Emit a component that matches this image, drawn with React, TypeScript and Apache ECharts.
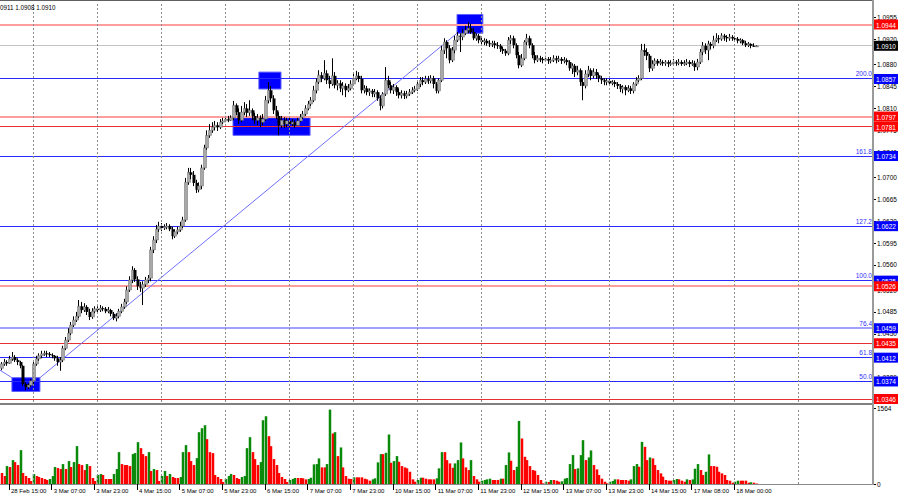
import React, { useEffect, useRef } from 'react';
import * as echarts from 'echarts';

// EURUSD H1, prices in points (0.0001) above 1.0000, bar 0 = 28 Feb 12:00
const OPEN = [395,402,405,403,410,413,408,405,399,370,365,368,375,402,410,415,418,419,418,416,415,411,405,408,427,440,451,464,472,478,494,488,493,485,477,486,490,488,491,490,486,488,482,475,478,486,493,501,520,536,552,537,526,523,529,536,539,584,600,617,622,619,621,622,617,606,613,616,622,632,692,708,704,691,680,686,715,747,767,775,780,783,780,788,790,793,791,795,815,804,791,804,810,803,807,798,791,795,788,793,823,839,826,807,798,783,791,785,790,785,788,783,790,796,801,810,817,823,839,852,863,858,866,855,849,862,847,850,842,846,839,842,849,858,862,857,839,842,836,838,833,836,826,814,833,855,847,839,844,836,831,834,830,833,836,839,841,849,855,852,857,854,858,849,838,855,903,916,906,887,903,919,926,924,930,935,938,932,922,926,919,916,918,914,913,914,911,910,905,902,898,919,922,911,895,879,890,916,922,911,895,887,890,889,887,889,886,887,890,887,889,886,887,884,874,878,868,871,852,846,865,871,862,868,863,858,855,852,854,850,852,849,846,841,844,839,842,838,849,855,858,903,900,894,874,881,886,882,884,882,884,881,882,884,882,884,881,882,884,881,882,876,884,900,910,903,913,910,919,922,921,926,924,922,924,922,921,918,919,914,911,913,910,909];
const HIGH = [405,410,408,415,421,416,411,407,400,373,371,378,405,415,419,423,423,423,421,419,416,415,413,431,445,459,469,478,485,504,501,499,496,490,491,494,494,496,494,493,493,490,485,483,490,498,506,526,542,558,555,542,533,534,541,544,589,606,624,629,627,625,627,625,621,617,621,629,637,699,715,715,710,696,692,720,752,775,785,788,790,788,793,795,798,798,799,822,818,810,814,820,817,823,810,803,801,799,801,830,852,846,831,814,804,798,796,795,795,793,791,795,801,806,815,822,828,846,858,871,868,887,871,862,890,868,855,855,852,850,849,855,865,870,868,862,847,846,842,841,841,839,831,836,876,862,852,849,847,842,839,838,838,841,844,846,855,860,860,862,862,863,862,852,858,910,922,919,911,908,926,932,930,937,942,948,945,938,930,929,924,922,921,919,918,918,916,913,908,905,924,927,926,914,900,897,919,929,926,914,900,895,894,892,894,892,892,895,894,894,892,892,890,887,882,881,878,874,858,871,878,874,874,873,866,862,858,858,857,855,855,852,849,847,847,847,846,852,860,863,913,913,906,897,887,890,889,889,887,887,887,887,889,887,889,887,887,889,887,887,886,889,905,916,914,918,916,926,930,927,930,929,927,929,927,926,924,922,921,918,916,914,914,911];
const LOW = [392,399,399,402,407,405,400,395,367,360,362,365,370,399,407,411,415,413,413,411,407,399,391,405,424,437,448,461,469,475,483,485,480,472,474,483,483,485,486,483,483,478,472,470,475,483,490,498,517,531,533,520,517,496,525,531,534,579,595,613,614,616,617,614,601,603,609,613,619,629,688,697,686,675,676,681,712,744,763,771,775,774,777,785,788,788,790,791,799,785,788,799,796,798,791,785,783,780,783,790,818,820,801,793,767,779,779,780,780,782,779,782,788,793,798,807,814,820,834,849,852,855,849,842,846,842,839,836,831,828,836,839,846,855,852,834,834,831,830,828,828,822,807,810,830,842,834,833,830,826,826,825,826,830,833,836,838,844,847,849,849,850,842,834,834,852,897,890,882,884,898,916,900,919,927,930,929,919,918,914,911,911,910,908,908,906,905,900,897,894,895,913,906,890,874,876,887,911,906,890,882,884,884,882,884,881,882,884,882,884,881,882,879,870,865,860,863,846,823,842,860,855,858,857,852,849,847,847,846,847,844,841,836,834,831,836,833,834,846,852,855,894,887,868,870,878,878,879,878,878,876,878,879,878,879,878,878,879,876,878,870,871,881,895,897,887,905,906,916,914,918,918,916,918,918,916,914,914,911,908,908,906,908,908];
const CLOSE = [402,405,403,410,413,408,405,399,370,365,368,375,402,410,415,418,419,418,416,415,411,405,408,427,440,451,464,472,478,494,488,493,485,477,486,490,488,491,490,486,488,482,475,478,486,493,501,520,536,552,537,526,523,529,536,539,584,600,617,622,619,621,622,617,606,613,616,622,632,692,708,704,691,680,686,715,747,767,775,780,783,780,788,790,793,791,795,815,804,791,804,810,803,807,798,791,795,788,793,823,839,826,807,798,783,791,785,790,785,788,783,790,796,801,810,817,823,839,852,863,858,866,855,849,862,847,850,842,846,839,842,849,858,862,857,839,842,836,838,833,836,826,814,833,855,847,839,844,836,831,834,830,833,836,839,841,849,855,852,857,854,858,849,838,855,903,916,906,887,903,919,926,924,930,935,938,932,922,926,919,916,918,914,913,914,911,910,905,902,898,919,922,911,895,879,890,916,922,911,895,887,890,889,887,889,886,887,890,887,889,886,887,884,874,878,868,871,852,846,865,871,862,868,863,858,855,852,854,850,852,849,846,841,844,839,842,838,849,855,858,903,900,894,874,881,886,882,884,882,884,881,882,884,882,884,881,882,884,881,882,876,884,900,910,903,913,910,919,922,921,926,924,922,924,922,921,918,919,914,911,913,910,909,910];
const VOLUME = [226,164,369,349,492,451,390,697,226,164,123,62,205,164,144,123,103,82,103,164,349,328,308,410,308,472,349,451,779,410,390,287,410,369,123,62,185,205,185,103,103,103,205,308,656,410,390,390,369,615,636,861,738,615,574,656,267,308,287,62,164,267,164,205,144,123,123,144,656,800,656,472,390,533,1066,1148,1210,923,656,636,185,144,103,41,103,164,205,185,123,103,144,164,738,964,656,513,390,451,1312,1394,984,779,513,390,226,144,103,41,82,103,123,123,123,117,96,103,129,404,410,527,342,342,410,1531,1039,1066,574,752,342,164,109,103,137,137,137,137,109,96,68,96,117,445,615,615,642,1019,437,472,574,457,369,342,322,252,96,47,82,129,129,109,96,96,96,117,322,656,656,492,424,334,424,492,855,527,342,287,492,164,96,47,68,82,96,109,82,82,82,109,109,390,650,478,287,355,1298,937,560,492,369,287,273,185,82,14,47,41,82,82,68,47,55,109,123,410,595,308,322,595,902,492,547,691,390,301,185,109,47,14,47,62,96,96,82,82,82,68,96,369,410,355,867,765,492,547,527,390,287,219,150,82,68,68,82,103,96,68,47,96,82,96,314,410,287,185,252,609,369,369,355,252,219,185,82,68,27,47,68,68,68,68,27,35,27,10];

const PRICE_TICKS = [1.0955, 1.092, 1.088, 1.0845, 1.081, 1.0775, 1.074, 1.07, 1.0665, 1.063, 1.0595, 1.056, 1.052, 1.0485, 1.045, 1.0415, 1.038, 1.0345];
const VOLUME_TICKS = [0, 1564];
const TIME_LABEL_BARS = [3, 19, 35, 51, 67, 83, 99, 115, 131, 147, 163, 179, 195, 211, 227, 243, 259, 275];
const TIME_LABELS = ['28 Feb 15:00', '3 Mar 07:00', '3 Mar 23:00', '4 Mar 15:00', '5 Mar 07:00', '5 Mar 23:00', '6 Mar 15:00', '7 Mar 07:00', '7 Mar 23:00', '10 Mar 15:00', '11 Mar 07:00', '11 Mar 23:00', '12 Mar 15:00', '13 Mar 07:00', '13 Mar 23:00', '14 Mar 15:00', '17 Mar 08:00', '18 Mar 00:00'];
const DAY_START_BARS = [12, 36, 60, 84, 108, 132, 156, 180, 204, 228, 252, 275, 299];

const LEVEL_PRICES = [1.0944, 1.091, 1.0857, 1.0797, 1.0781, 1.0734, 1.0622, 1.0535, 1.0526, 1.0459, 1.0435, 1.0412, 1.0374, 1.0346];
const LEVEL_KINDS = ['zone', 'bid', 'fib', 'zone', 'support', 'fib', 'fib', 'fib', 'zone', 'fibSoft', 'support', 'fib', 'fib', 'support'];
const LEVEL_FIB = ['', '', '200.0', '', '', '161.8', '127.2', '100.0', '', '76.4', '', '61.8', '50.0', ''];

// [startBar, endBar, topPrice, bottomPrice]
const BOXES = [
  [4.1, 14.6, 1.038, 1.0358],
  [87.0, 115.9, 1.0795, 1.0767],
  [96.7, 105.0, 1.0868, 1.0841],
  [171.0, 180.7, 1.096, 1.093],
];
// [[bar, price], [bar, price]]
const TREND_LINES = [
  [[-0.375, 1.0392], [4.1, 1.038]],
  [[14.6, 1.038], [171.0, 1.093]],
];
const HEADER_TEXT = '0911 1.0908 1.0910';

const X_MIN = -0.375;
const X_MAX = 327;
const FONT = 'Liberation Sans';
const LEVEL_STYLE: any = {
  zone: { color: '#ff9c9c', width: 2, tag: '#ff0000' },
  bid: { color: '#c4c4c4', width: 1, tag: '#000000' },
  fib: { color: '#2a2aff', width: 1, tag: '#0000ff' },
  fibSoft: { color: '#a0a0ff', width: 2, tag: '#0000ff' },
  support: { color: '#e83030', width: 1, tag: '#ff0000' },
};

const toPrice = (pts: number) => 1 + pts / 10000;

export default function App() {
  const ref = useRef<HTMLDivElement>(null);
  useEffect(() => {
    if (!ref.current) return;
    const chart = echarts.init(ref.current, null, { renderer: 'svg' });

    const candleData = OPEN.map((o, i) => [i, toPrice(o), toPrice(CLOSE[i]), toPrice(LOW[i]), toPrice(HIGH[i])]);
    const volumeData = VOLUME.map((v, i) => [i, v, i > 0 && v > VOLUME[i - 1] ? 1 : 0]);
    const tagData = LEVEL_PRICES.map((p, k) => [X_MAX, p, k]);
    const levelData = LEVEL_PRICES.map((p, k) => [X_MIN, p, k]);

    const renderCandle = (params: any, api: any) => {
      const i = api.value(0);
      const o = api.value(1);
      const c = api.value(2);
      const l = api.value(3);
      const h = api.value(4);
      const pO = api.coord([i, o]);
      const pC = api.coord([i, c]);
      const pL = api.coord([i, l]);
      const pH = api.coord([i, h]);
      const rx = Math.round(pO[0]);
      const up = c > o;
      const top = Math.min(pO[1], pC[1]);
      const bh = Math.max(1, Math.abs(pO[1] - pC[1]));
      return {
        type: 'group',
        children: [
          { type: 'line', shape: { x1: rx + 0.5, y1: pH[1], x2: rx + 0.5, y2: pL[1] }, style: { stroke: '#000', lineWidth: 1 } },
          {
            type: 'rect',
            shape: { x: rx - 0.5, y: top, width: 3, height: bh },
            style: { fill: up ? '#a8a8a8' : '#000000', stroke: up ? '#6a6a6a' : null, lineWidth: up ? 0.5 : 0 },
          },
        ],
      };
    };

    const renderVolume = (params: any, api: any) => {
      const i = api.value(0);
      const v = api.value(1);
      const rising = api.value(2) === 1;
      const p1 = api.coord([i, v]);
      const p0 = api.coord([i, 0]);
      const rx = Math.round(p1[0]);
      return {
        type: 'rect',
        shape: { x: rx - 0.25, y: p1[1], width: 2.5, height: Math.max(0.5, p0[1] - p1[1]) },
        style: { fill: rising ? '#0a8a0a' : '#ff0000' },
      };
    };

    // horizontal level lines, drawn across the plot from the axis scale
    const renderLevel = (params: any, api: any) => {
      const p = api.value(1);
      const k = api.value(2);
      const a = api.coord([X_MIN, p]);
      const b = api.coord([X_MAX, p]);
      const st = LEVEL_STYLE[LEVEL_KINDS[k]];
      const y = st.width % 2 === 1 ? Math.round(a[1] - 0.5) + 0.5 : Math.round(a[1]);
      const children: any[] = [
        { type: 'line', shape: { x1: a[0], y1: y, x2: b[0], y2: y }, style: { stroke: st.color, lineWidth: st.width } },
      ];
      if (LEVEL_FIB[k]) {
        children.push({
          type: 'text',
          style: {
            text: LEVEL_FIB[k],
            x: b[0] - 1,
            y: y - 1.5,
            fill: '#3030ff',
            fontSize: 6.5,
            fontFamily: FONT,
            align: 'right',
            verticalAlign: 'bottom',
          },
        });
      }
      return { type: 'group', children };
    };

    const renderTag = (params: any, api: any) => {
      const p = api.value(1);
      const k = api.value(2);
      const pt = api.coord([api.value(0), p]);
      const st = LEVEL_STYLE[LEVEL_KINDS[k]];
      return {
        type: 'group',
        children: [
          { type: 'rect', shape: { x: pt[0] + 1, y: pt[1] - 5, width: 24, height: 10 }, style: { fill: st.tag } },
          {
            type: 'text',
            style: {
              text: p.toFixed(4),
              x: pt[0] + 3,
              y: pt[1] + 0.5,
              fill: '#ffffff',
              fontSize: 6.5,
              fontFamily: FONT,
              align: 'left',
              verticalAlign: 'middle',
            },
          },
        ],
      };
    };

    const dayLines = (xi: number, yi: number) => ({
      type: 'line',
      xAxisIndex: xi,
      yAxisIndex: yi,
      data: [],
      z: 1,
      silent: true,
      markLine: {
        silent: true,
        precision: 4,
        symbol: ['none', 'none'],
        label: { show: false },
        lineStyle: { color: '#8c8c8c', type: [2, 2], width: 1 },
        data: DAY_START_BARS.map((b) => ({ xAxis: b })),
      },
    });

    const option: any = {
      animation: false,
      backgroundColor: '#ffffff',
      textStyle: { fontFamily: FONT },
      grid: [
        { left: 0, top: 2, width: 873, height: 400 },
        { left: 0, top: 408, width: 873, height: 76 },
      ],
      xAxis: [
        { type: 'value', gridIndex: 0, min: X_MIN, max: X_MAX, show: false },
        {
          type: 'value',
          gridIndex: 1,
          min: X_MIN,
          max: X_MAX,
          splitLine: { show: false },
          axisLine: { show: true, onZero: false, lineStyle: { color: '#8a8a8a', width: 1 } },
          axisTick: { show: true, customValues: TIME_LABEL_BARS, length: 6, lineStyle: { color: '#000' } },
          axisLabel: {
            customValues: TIME_LABEL_BARS,
            formatter: (v: number) => TIME_LABELS[TIME_LABEL_BARS.indexOf(v)] || '',
            align: 'left',
            fontSize: 6,
            color: '#000',
            margin: 4,
            padding: [0, 0, 0, 2],
            fontFamily: FONT,
          },
        },
      ],
      yAxis: [
        {
          type: 'value',
          gridIndex: 0,
          position: 'right',
          min: 1.034121,
          max: 1.097993,
          splitLine: { show: false },
          axisLine: { show: true, onZero: false, lineStyle: { color: '#9a9a9a', width: 2 } },
          axisTick: { show: true, inside: false, customValues: PRICE_TICKS, length: 3, lineStyle: { color: '#000' } },
          axisLabel: { customValues: PRICE_TICKS, formatter: (v: number) => v.toFixed(4), fontSize: 6.5, color: '#000', margin: 4, fontFamily: FONT },
        },
        {
          type: 'value',
          gridIndex: 1,
          position: 'right',
          min: 0,
          max: 1564,
          splitLine: { show: false },
          axisLine: { show: true, onZero: false, lineStyle: { color: '#9a9a9a', width: 2 } },
          axisTick: { show: true, inside: false, customValues: VOLUME_TICKS, length: 3, lineStyle: { color: '#000' } },
          axisLabel: { customValues: VOLUME_TICKS, formatter: (v: number) => String(v), fontSize: 6.5, color: '#000', margin: 4, fontFamily: FONT },
        },
      ],
      graphic: [
        { type: 'rect', shape: { x: 0, y: 0, width: 874, height: 1 }, style: { fill: '#606060' }, z: 10 },
        { type: 'rect', shape: { x: 0, y: 403, width: 874, height: 2 }, style: { fill: '#808080' }, z: 10 },
        { type: 'rect', shape: { x: 872, y: 0, width: 2, height: 485 }, style: { fill: '#9a9a9a' }, z: 10 },
        { type: 'text', x: 0, y: 4, style: { text: HEADER_TEXT, fontSize: 6.3, fill: '#000', fontFamily: FONT }, z: 10 },
      ],
      series: [
        dayLines(0, 0),
        {
          type: 'line',
          xAxisIndex: 0,
          yAxisIndex: 0,
          data: [],
          z: 1,
          silent: true,
          markArea: {
            silent: true,
            label: { show: false },
            itemStyle: { color: '#0000ff', borderColor: '#6060ff', borderWidth: 1, opacity: 1 },
            data: BOXES.map((b) => [{ coord: [b[0], b[2]] }, { coord: [b[1], b[3]] }]),
          },
        },
        {
          type: 'custom',
          xAxisIndex: 0,
          yAxisIndex: 0,
          data: levelData,
          encode: { x: 0, y: 1 },
          renderItem: renderLevel,
          clip: false,
          z: 2,
          silent: true,
        },
        ...TREND_LINES.map((seg) => ({
          type: 'line',
          xAxisIndex: 0,
          yAxisIndex: 0,
          data: seg,
          symbol: 'none',
          silent: true,
          z: 2,
          lineStyle: { color: '#6f6fff', width: 1 },
        })),
        {
          type: 'custom',
          xAxisIndex: 0,
          yAxisIndex: 0,
          data: candleData,
          encode: { x: 0, y: [1, 2, 3, 4] },
          renderItem: renderCandle,
          z: 3,
          silent: true,
        },
        {
          type: 'custom',
          xAxisIndex: 0,
          yAxisIndex: 0,
          data: tagData,
          encode: { x: 0, y: 1 },
          renderItem: renderTag,
          clip: false,
          z: 12,
          silent: true,
        },
        dayLines(1, 1),
        {
          type: 'custom',
          xAxisIndex: 1,
          yAxisIndex: 1,
          data: volumeData,
          encode: { x: 0, y: 1 },
          renderItem: renderVolume,
          z: 3,
          silent: true,
        },
      ],
    };
    chart.setOption(option);
    return () => chart.dispose();
  }, []);

  return (
    <div
      ref={ref}
      style={{ position: 'fixed', left: 0, top: 0, width: 900, height: 500, background: '#ffffff' }}
    />
  );
}
